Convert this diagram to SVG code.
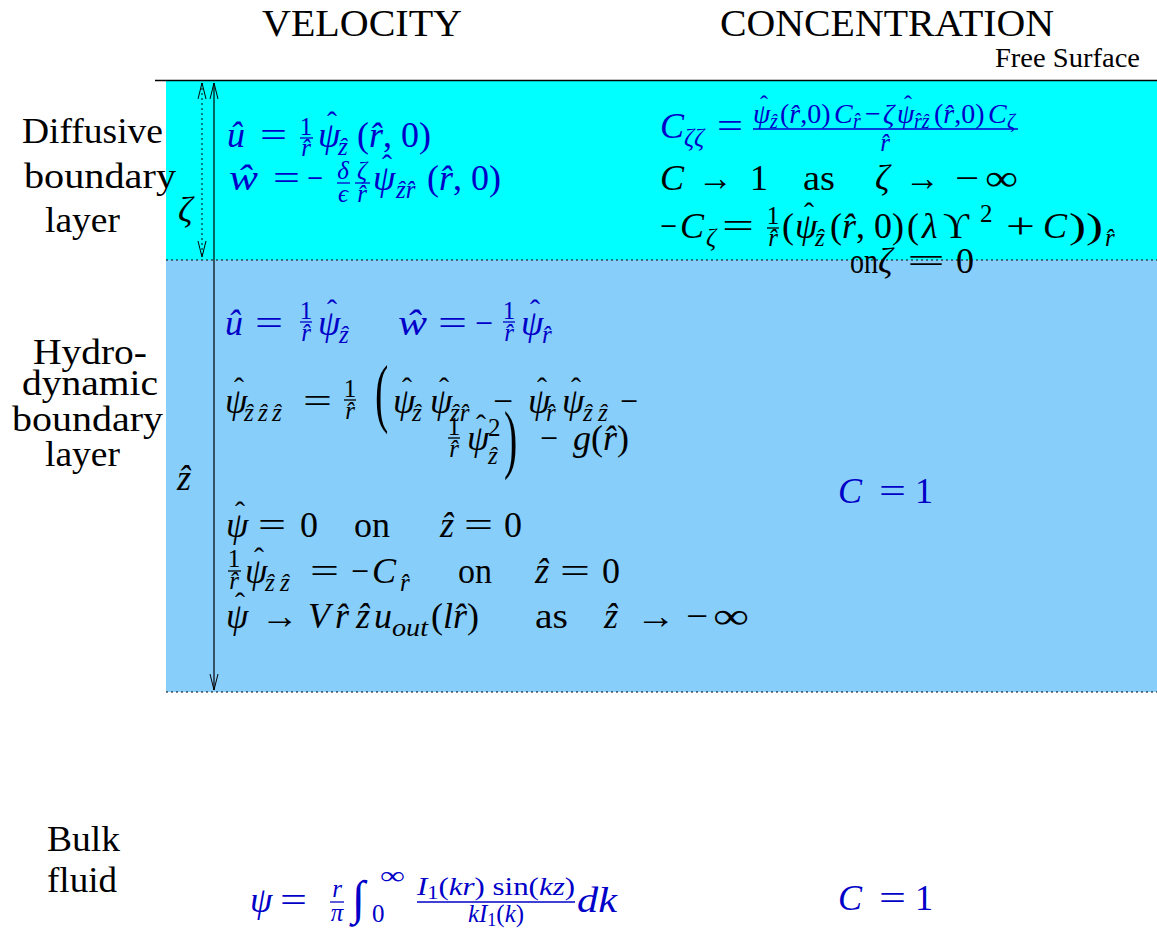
<svg xmlns="http://www.w3.org/2000/svg" width="1157" height="936" viewBox="0 0 1157 936">
<style>
text { font-family: "Liberation Serif", "Times New Roman", "DejaVu Serif", serif; font-size: 36px; fill: #000; }
.s { font-size: 25px; }
.n2 { font-size: 28px; }
.s2 { font-size: 20px; }
.ss { font-size: 18px; }
.i { font-style: italic; }
.blue text, text.blue { fill: #0000c8; }
.fb { stroke: #000; stroke-width: 1.3; }
.blue .fb { stroke: #0000c8; }
.dot { stroke: #000; stroke-width: 1; stroke-dasharray: 2 3; }
.par { font-size: 40px; }
.hat { font-size: 30px; text-anchor: middle; }
.hs { font-size: 24px; text-anchor: middle; }
</style>
<defs>
<marker id="arr" markerWidth="20" markerHeight="12" refX="0" refY="0" viewBox="-17 -6 20 12" orient="auto-start-reverse" markerUnits="userSpaceOnUse" overflow="visible">
<path d="M-16,-4 L0,0 L-16,4" fill="none" stroke="#000" stroke-width="1"/>
</marker>
</defs>

<rect width="1157" height="936" fill="#fff"/>

<g id="headers">
<text x="262" y="36" textLength="200" lengthAdjust="spacingAndGlyphs" style="font-size:38px">VELOCITY</text>
<text x="720" y="36" textLength="334" lengthAdjust="spacingAndGlyphs" style="font-size:38px">CONCENTRATION</text>
<text x="995" y="67" textLength="145" lengthAdjust="spacingAndGlyphs" style="font-size:27px">Free Surface</text>
</g>

<g id="regions">
<rect id="diffusive-region" x="166" y="81" width="991" height="179" fill="#00ffff"/>
<rect id="hydro-region" x="166" y="260" width="991" height="432" fill="#87cefa"/>
<line x1="155" y1="80.5" x2="1157" y2="80.5" stroke="#000" stroke-width="1.5"/>
<line class="dot" x1="166" y1="260" x2="1157" y2="260"/>
<line class="dot" x1="166" y1="692" x2="1157" y2="692"/>
</g>

<g id="labels">
<text x="22" y="143" textLength="141" lengthAdjust="spacingAndGlyphs">Diffusive</text>
<text x="24" y="188" textLength="152" lengthAdjust="spacingAndGlyphs">boundary</text>
<text x="45" y="232" textLength="75" lengthAdjust="spacingAndGlyphs">layer</text>
<text x="33" y="364" textLength="114" lengthAdjust="spacingAndGlyphs">Hydro-</text>
<text x="22" y="395" textLength="136" lengthAdjust="spacingAndGlyphs">dynamic</text>
<text x="12" y="431" textLength="151" lengthAdjust="spacingAndGlyphs">boundary</text>
<text x="45" y="466" textLength="75" lengthAdjust="spacingAndGlyphs">layer</text>
<text x="47" y="851" textLength="73" lengthAdjust="spacingAndGlyphs">Bulk</text>
<text x="47" y="892" textLength="70" lengthAdjust="spacingAndGlyphs">fluid</text>
<text class="i" x="178" y="222">ζ</text>
<text class="i" x="177" y="490">z&#x302;</text>
</g>

<g id="connectors">
<line x1="214" y1="83" x2="214" y2="690" stroke="#000" stroke-width="1.2" marker-start="url(#arr)" marker-end="url(#arr)"/>
<line x1="202" y1="83" x2="202" y2="257" stroke="#000" stroke-width="1" stroke-dasharray="2 3" marker-start="url(#arr)" marker-end="url(#arr)"/>
</g>

<g id="velocity-diffusive" class="blue">
<text class="i" x="227" y="147">û</text>
<text x="260" y="147" textLength="27" lengthAdjust="spacingAndGlyphs">=</text>
<text class="s" x="306" y="135" text-anchor="middle">1</text>
<line class="fb" x1="300" y1="138" x2="313" y2="138"/>
<text class="s i" x="306" y="156" text-anchor="middle">r&#x302;</text>
<text class="i" x="318" y="147">ψ</text>
<text class="hat" x="332" y="132">ˆ</text>
<text class="s i" x="338" y="155">z&#x302;</text>
<text x="357" y="147">(<tspan class="i">r&#x302;</tspan>, 0)</text>

<text class="i" x="229" y="190" textLength="29" lengthAdjust="spacingAndGlyphs">ŵ</text>
<text x="273" y="190" textLength="27" lengthAdjust="spacingAndGlyphs">=</text>
<text x="307" y="190" textLength="16" lengthAdjust="spacingAndGlyphs">−</text>
<text class="s i" x="343" y="179" text-anchor="middle">δ</text>
<line class="fb" x1="337" y1="183" x2="350" y2="183"/>
<text class="s i" x="343" y="202" text-anchor="middle">ϵ</text>
<text class="s i" x="362" y="179" text-anchor="middle">ζ</text>
<line class="fb" x1="355" y1="183" x2="370" y2="183"/>
<text class="s i" x="362" y="202" text-anchor="middle">r&#x302;</text>
<text class="i" x="373" y="190">ψ</text>
<text class="hat" x="387" y="175">ˆ</text>
<text class="s i" x="396" y="198">z&#x302;r&#x302;</text>
<text x="427" y="190">(<tspan class="i">r&#x302;</tspan>, 0)</text>
</g>

<g id="concentration-diffusive">
<g class="blue">
<text class="i" x="660" y="138">C</text>
<text class="s i" x="684" y="146">ζζ</text>
<text x="717" y="138" textLength="26" lengthAdjust="spacingAndGlyphs">=</text>
<text class="n2 i" x="753" y="123">ψ</text>
<text class="hs" x="764" y="112">ˆ</text>
<text class="s2 i" x="770" y="128">z&#x302;</text>
<text class="n2" x="780" y="123">(<tspan class="i">r&#x302;</tspan>,0)</text>
<text class="n2 i" x="834" y="123">C</text>
<text class="s2 i" x="853" y="128">r&#x302;</text>
<text class="n2" x="865" y="123">−</text>
<text class="n2 i" x="883" y="123">ζ</text>
<text class="n2 i" x="897" y="123">ψ</text>
<text class="hs" x="908" y="112">ˆ</text>
<text class="s2 i" x="914" y="128">r&#x302;z&#x302;</text>
<text class="n2" x="934" y="123">(<tspan class="i">r&#x302;</tspan>,0)</text>
<text class="n2 i" x="988" y="123">C</text>
<text class="s2 i" x="1007" y="128">ζ</text>
<line class="fb" x1="753" y1="129" x2="1018" y2="129"/>
<text class="s i" x="885" y="151" text-anchor="middle">r&#x302;</text>
</g>
<text class="i" x="660" y="190">C</text>
<text x="698" y="190" textLength="35" lengthAdjust="spacingAndGlyphs">→</text>
<text x="750" y="190">1</text>
<text x="803" y="190" textLength="32" lengthAdjust="spacingAndGlyphs">as</text>
<text class="i" x="875" y="190">ζ</text>
<text x="905" y="190" textLength="35" lengthAdjust="spacingAndGlyphs">→</text>
<text x="955" y="190" textLength="24" lengthAdjust="spacingAndGlyphs">−</text>
<text x="985" y="190" textLength="33" lengthAdjust="spacingAndGlyphs">∞</text>

<text x="660" y="238" textLength="17" lengthAdjust="spacingAndGlyphs">−</text>
<text class="i" x="680" y="238">C</text>
<text class="s i" x="706" y="246">ζ</text>
<text x="722" y="238" textLength="32" lengthAdjust="spacingAndGlyphs">=</text>
<text class="s" x="773" y="224" text-anchor="middle">1</text>
<line class="fb" x1="767" y1="228" x2="779" y2="228"/>
<text class="s i" x="773" y="246" text-anchor="middle">r&#x302;</text>
<text x="782" y="238">(</text>
<text class="i" x="795" y="238">ψ</text>
<text class="hat" x="809" y="223">ˆ</text>
<text class="s i" x="815" y="246">z&#x302;</text>
<text x="830" y="238">(<tspan class="i">r&#x302;</tspan>, 0)</text>
<text x="907" y="238">(</text>
<text class="i" x="922" y="238">λ</text>
<text x="943" y="238">ϒ</text>
<text class="s" x="980" y="222">2</text>
<text x="1006" y="238" textLength="29" lengthAdjust="spacingAndGlyphs">+</text>
<text class="i" x="1043" y="238">C</text>
<text x="1069" y="238" textLength="34" lengthAdjust="spacingAndGlyphs">))</text>
<text class="s i" x="1105" y="246">r&#x302;</text>

<text x="850" y="273" textLength="28" lengthAdjust="spacingAndGlyphs">on</text>
<text class="i" x="878" y="273">ζ</text>
<text x="907" y="273" textLength="38" lengthAdjust="spacingAndGlyphs">=</text>
<text x="956" y="273">0</text>
</g>

<g id="velocity-hydro">
<g class="blue">
<text class="i" x="225" y="335">û</text>
<text x="255" y="335" textLength="28" lengthAdjust="spacingAndGlyphs">=</text>
<text class="s" x="306" y="319" text-anchor="middle">1</text>
<line class="fb" x1="300" y1="322" x2="312" y2="322"/>
<text class="s i" x="306" y="341" text-anchor="middle">r&#x302;</text>
<text class="i" x="318" y="335">ψ</text>
<text class="hat" x="332" y="320">ˆ</text>
<text class="s i" x="339" y="343">z&#x302;</text>
<text class="i" x="398" y="335" textLength="29" lengthAdjust="spacingAndGlyphs">ŵ</text>
<text x="438" y="335" textLength="29" lengthAdjust="spacingAndGlyphs">=</text>
<text x="475" y="335" textLength="18" lengthAdjust="spacingAndGlyphs">−</text>
<text class="s" x="509" y="319" text-anchor="middle">1</text>
<line class="fb" x1="503" y1="322" x2="515" y2="322"/>
<text class="s i" x="509" y="341" text-anchor="middle">r&#x302;</text>
<text class="i" x="521" y="335">ψ</text>
<text class="hat" x="535" y="320">ˆ</text>
<text class="s i" x="542" y="343">r&#x302;</text>
</g>

<text class="i" x="225" y="413">ψ</text>
<text class="hat" x="239" y="398">ˆ</text>
<text class="s i" x="244" y="421">z&#x302;</text>
<text class="s i" x="258" y="421">z&#x302;</text>
<text class="s i" x="272" y="421">z&#x302;</text>
<text x="303" y="413" textLength="29" lengthAdjust="spacingAndGlyphs">=</text>
<text class="s" x="350" y="397" text-anchor="middle">1</text>
<line class="fb" x1="344" y1="400" x2="356" y2="400"/>
<text class="s i" x="350" y="419" text-anchor="middle">r&#x302;</text>
<text class="par" transform="translate(375,418) scale(1,1.9)">(</text>
<text class="i" x="393" y="413">ψ</text>
<text class="hat" x="407" y="398">ˆ</text>
<text class="s i" x="412" y="421">z&#x302;</text>
<text class="i" x="430" y="413">ψ</text>
<text class="hat" x="444" y="398">ˆ</text>
<text class="s i" x="450" y="421">z&#x302;r&#x302;</text>
<text x="493" y="413" textLength="20" lengthAdjust="spacingAndGlyphs">−</text>
<text class="i" x="528" y="413">ψ</text>
<text class="hat" x="542" y="398">ˆ</text>
<text class="s i" x="546" y="421">r&#x302;</text>
<text class="i" x="562" y="413">ψ</text>
<text class="hat" x="576" y="398">ˆ</text>
<text class="s i" x="583" y="421">z&#x302;</text>
<text class="s i" x="598" y="421">z&#x302;</text>
<text x="620" y="413" textLength="18" lengthAdjust="spacingAndGlyphs">−</text>

<text class="s" x="454" y="435" text-anchor="middle">1</text>
<line class="fb" x1="448" y1="438" x2="460" y2="438"/>
<text class="s i" x="454" y="457" text-anchor="middle">r&#x302;</text>
<text class="i" x="467" y="450">ψ</text>
<text class="hat" x="481" y="435">ˆ</text>
<text class="s" x="488" y="436">2</text>
<text class="s i" x="488" y="464">z&#x302;</text>
<text class="par" transform="translate(504,464) scale(1,1.9)">)</text>
<text x="540" y="450" textLength="18" lengthAdjust="spacingAndGlyphs">−</text>
<text x="573" y="450"><tspan class="i">g</tspan>(<tspan class="i">r&#x302;</tspan>)</text>

<text class="i" x="226" y="537">ψ</text>
<text class="hat" x="240" y="522">ˆ</text>
<text x="258" y="537" textLength="28" lengthAdjust="spacingAndGlyphs">=</text>
<text x="300" y="537">0</text>
<text x="354" y="537" textLength="36" lengthAdjust="spacingAndGlyphs">on</text>
<text class="i" x="440" y="537">z&#x302;</text>
<text x="464" y="537" textLength="29" lengthAdjust="spacingAndGlyphs">=</text>
<text x="504" y="537">0</text>

<text class="s" x="234" y="567" text-anchor="middle">1</text>
<line class="fb" x1="228" y1="571" x2="241" y2="571"/>
<text class="s i" x="234" y="589" text-anchor="middle">r&#x302;</text>
<text class="i" x="245" y="583">ψ</text>
<text class="hat" x="259" y="568">ˆ</text>
<text class="s i" x="265" y="591">z&#x302;</text>
<text class="s i" x="280" y="591">z&#x302;</text>
<text x="310" y="583" textLength="29" lengthAdjust="spacingAndGlyphs">=</text>
<text x="351" y="583" textLength="18" lengthAdjust="spacingAndGlyphs">−</text>
<text class="i" x="372" y="583">C</text>
<text class="s i" x="400" y="591">r&#x302;</text>
<text x="458" y="583" textLength="34" lengthAdjust="spacingAndGlyphs">on</text>
<text class="i" x="535" y="583">z&#x302;</text>
<text x="560" y="583" textLength="30" lengthAdjust="spacingAndGlyphs">=</text>
<text x="602" y="583">0</text>

<text class="i" x="226" y="628">ψ</text>
<text class="hat" x="240" y="613">ˆ</text>
<text x="261" y="628" textLength="38" lengthAdjust="spacingAndGlyphs">→</text>
<text class="i" x="308" y="628">V</text>
<text class="i" x="335" y="628">r&#x302;</text>
<text class="i" x="356" y="628">z&#x302;</text>
<text class="i" x="374" y="628">u</text>
<text class="s i" x="392" y="636" textLength="36" lengthAdjust="spacingAndGlyphs">out</text>
<text x="431" y="628">(<tspan class="i">lr&#x302;</tspan>)</text>
<text x="535" y="628" textLength="33" lengthAdjust="spacingAndGlyphs">as</text>
<text class="i" x="604" y="628">z&#x302;</text>
<text x="636" y="628" textLength="40" lengthAdjust="spacingAndGlyphs">→</text>
<text x="686" y="628" textLength="22" lengthAdjust="spacingAndGlyphs">−</text>
<text x="713" y="628" textLength="36" lengthAdjust="spacingAndGlyphs">∞</text>
</g>

<g id="concentration-hydro" class="blue">
<text class="i" x="838" y="503">C</text>
<text x="879" y="503" textLength="27" lengthAdjust="spacingAndGlyphs">=</text>
<text x="915" y="503">1</text>
</g>

<g id="velocity-bulk" class="blue">
<text class="i" x="250" y="912">ψ</text>
<text x="280" y="912" textLength="27" lengthAdjust="spacingAndGlyphs">=</text>
<text class="s i" x="337" y="897" text-anchor="middle">r</text>
<line class="fb" x1="330" y1="902" x2="344" y2="902"/>
<text class="s i" x="337" y="921" text-anchor="middle">π</text>
<text x="352" y="914" style="font-size:48px">∫</text>
<text class="s" x="380" y="884" textLength="25" lengthAdjust="spacingAndGlyphs">∞</text>
<text class="s" x="372" y="922">0</text>
<text class="s" x="417" y="895" textLength="158" lengthAdjust="spacingAndGlyphs"><tspan class="i">I</tspan><tspan class="ss" dy="4">1</tspan><tspan dy="-4">(</tspan><tspan class="i">kr</tspan>) sin(<tspan class="i">kz</tspan>)</text>
<line class="fb" x1="417" y1="902" x2="575" y2="902"/>
<text class="s" x="496" y="922" text-anchor="middle"><tspan class="i">kI</tspan><tspan class="ss" dy="4">1</tspan><tspan dy="-4">(</tspan><tspan class="i">k</tspan>)</text>
<text class="i" x="577" y="912" textLength="40" lengthAdjust="spacingAndGlyphs">dk</text>
</g>

<g id="concentration-bulk" class="blue">
<text class="i" x="838" y="910">C</text>
<text x="879" y="910" textLength="27" lengthAdjust="spacingAndGlyphs">=</text>
<text x="915" y="910">1</text>
</g>
</svg>
